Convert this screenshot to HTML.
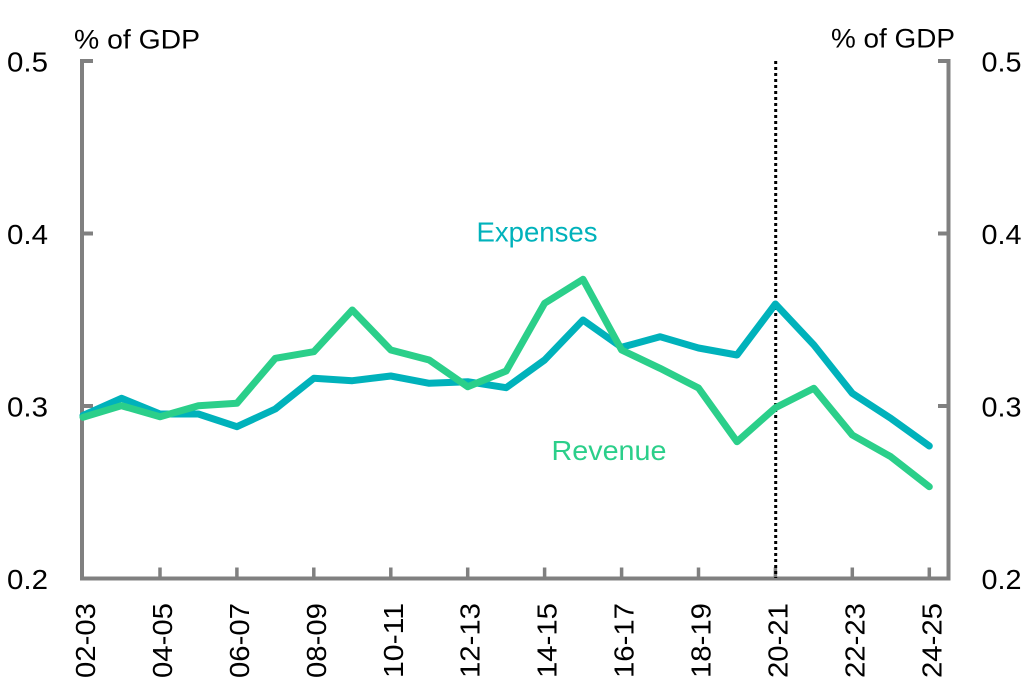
<!DOCTYPE html>
<html><head><meta charset="utf-8"><style>
html,body{margin:0;padding:0;background:#fff;}
svg{display:block;font-family:"Liberation Sans",sans-serif;}
</style></head><body>
<svg width="1031" height="687" viewBox="0 0 1031 687" xmlns="http://www.w3.org/2000/svg">
<rect width="1031" height="687" fill="#fff"/>
<!-- axes -->
<g stroke="#808080" stroke-width="4" fill="none">
<line x1="82" y1="59" x2="82" y2="580.5"/>
<line x1="80" y1="578.5" x2="950.5" y2="578.5"/>
<line x1="948.5" y1="59" x2="948.5" y2="580.5"/>
<line x1="82" y1="61" x2="93" y2="61"/>
<line x1="82" y1="233.5" x2="93" y2="233.5"/>
<line x1="82" y1="406" x2="93" y2="406"/>
<line x1="938" y1="61" x2="948.5" y2="61"/>
<line x1="938" y1="233.5" x2="948.5" y2="233.5"/>
<line x1="938" y1="406" x2="948.5" y2="406"/>
</g>
<g stroke="#808080" stroke-width="3.5">
<line x1="160" y1="567.5" x2="160" y2="578"/>
<line x1="236.9" y1="567.5" x2="236.9" y2="578"/>
<line x1="313.8" y1="567.5" x2="313.8" y2="578"/>
<line x1="390.8" y1="567.5" x2="390.8" y2="578"/>
<line x1="467.7" y1="567.5" x2="467.7" y2="578"/>
<line x1="544.6" y1="567.5" x2="544.6" y2="578"/>
<line x1="621.6" y1="567.5" x2="621.6" y2="578"/>
<line x1="698.5" y1="567.5" x2="698.5" y2="578"/>
<line x1="775.4" y1="567.5" x2="775.4" y2="578"/>
<line x1="852.3" y1="567.5" x2="852.3" y2="578"/>
<line x1="929.3" y1="567.5" x2="929.3" y2="578"/>
</g>
<!-- dotted line -->
<line x1="775.7" y1="61" x2="775.7" y2="578" stroke="#000" stroke-width="3" stroke-dasharray="3,3"/>
<!-- series -->
<polyline fill="none" stroke="#00B2BB" stroke-width="7" stroke-linejoin="round" stroke-linecap="round"
points="83,415.5 121.5,398.3 160,414 198.4,414 236.9,426.7 275.3,409 313.8,378.3 352.3,380.7 390.8,376 429.2,383.3 467.7,381.7 506.2,387.7 544.6,360 583,320 621.6,347.3 660,336.7 698.5,348 737,355 775.4,304 813.9,345 852.3,393.3 890.8,418.3 929.3,446"/>
<polyline fill="none" stroke="#2BCF8A" stroke-width="7" stroke-linejoin="round" stroke-linecap="round"
points="83,417.3 121.5,405.7 160,416.7 198.4,405.7 236.9,403.3 275.3,358.3 313.8,351.7 352.3,310 390.8,350 429.2,360 467.7,386.7 506.2,371 544.6,303.3 583,279.3 621.6,350 660,368.3 698.5,388 737,441.7 775.4,407.7 813.9,388.3 852.3,435 890.8,456.7 929.3,486.7"/>
<!-- series labels -->
<text x="476.5" y="241.5" font-size="27.5" fill="#00B2BB" textLength="121" lengthAdjust="spacingAndGlyphs">Expenses</text>
<text x="551.5" y="460" font-size="27.5" fill="#2BCF8A" textLength="115" lengthAdjust="spacingAndGlyphs">Revenue</text>
<!-- axis titles -->
<text x="74" y="48.3" font-size="27" fill="#000" textLength="126" lengthAdjust="spacingAndGlyphs">% of GDP</text>
<text x="831" y="47.7" font-size="27" fill="#000" textLength="124" lengthAdjust="spacingAndGlyphs">% of GDP</text>
<!-- y tick labels -->
<g font-size="28" fill="#000">
<text x="7" y="71.7" textLength="41" lengthAdjust="spacingAndGlyphs">0.5</text>
<text x="7" y="244" textLength="41" lengthAdjust="spacingAndGlyphs">0.4</text>
<text x="7" y="416.5" textLength="41" lengthAdjust="spacingAndGlyphs">0.3</text>
<text x="7" y="588.8" textLength="41" lengthAdjust="spacingAndGlyphs">0.2</text>
<text x="981.5" y="71.7" textLength="40" lengthAdjust="spacingAndGlyphs">0.5</text>
<text x="981.5" y="244" textLength="40" lengthAdjust="spacingAndGlyphs">0.4</text>
<text x="981.5" y="416.5" textLength="40" lengthAdjust="spacingAndGlyphs">0.3</text>
<text x="981.5" y="588.8" textLength="40" lengthAdjust="spacingAndGlyphs">0.2</text>
</g>
<!-- x tick labels -->
<g font-size="28" fill="#000" text-anchor="end">
<text transform="translate(95,603) rotate(-90)" textLength="75" lengthAdjust="spacingAndGlyphs">02-03</text>
<text transform="translate(172,603) rotate(-90)" textLength="75" lengthAdjust="spacingAndGlyphs">04-05</text>
<text transform="translate(248.9,603) rotate(-90)" textLength="75" lengthAdjust="spacingAndGlyphs">06-07</text>
<text transform="translate(325.8,603) rotate(-90)" textLength="75" lengthAdjust="spacingAndGlyphs">08-09</text>
<text transform="translate(402.8,603) rotate(-90)" textLength="75" lengthAdjust="spacingAndGlyphs">10-11</text>
<text transform="translate(479.7,603) rotate(-90)" textLength="75" lengthAdjust="spacingAndGlyphs">12-13</text>
<text transform="translate(556.6,603) rotate(-90)" textLength="75" lengthAdjust="spacingAndGlyphs">14-15</text>
<text transform="translate(633.6,603) rotate(-90)" textLength="75" lengthAdjust="spacingAndGlyphs">16-17</text>
<text transform="translate(710.5,603) rotate(-90)" textLength="75" lengthAdjust="spacingAndGlyphs">18-19</text>
<text transform="translate(787.4,603) rotate(-90)" textLength="75" lengthAdjust="spacingAndGlyphs">20-21</text>
<text transform="translate(864.3,603) rotate(-90)" textLength="75" lengthAdjust="spacingAndGlyphs">22-23</text>
<text transform="translate(941.3,603) rotate(-90)" textLength="75" lengthAdjust="spacingAndGlyphs">24-25</text>
</g>
</svg>
</body></html>
